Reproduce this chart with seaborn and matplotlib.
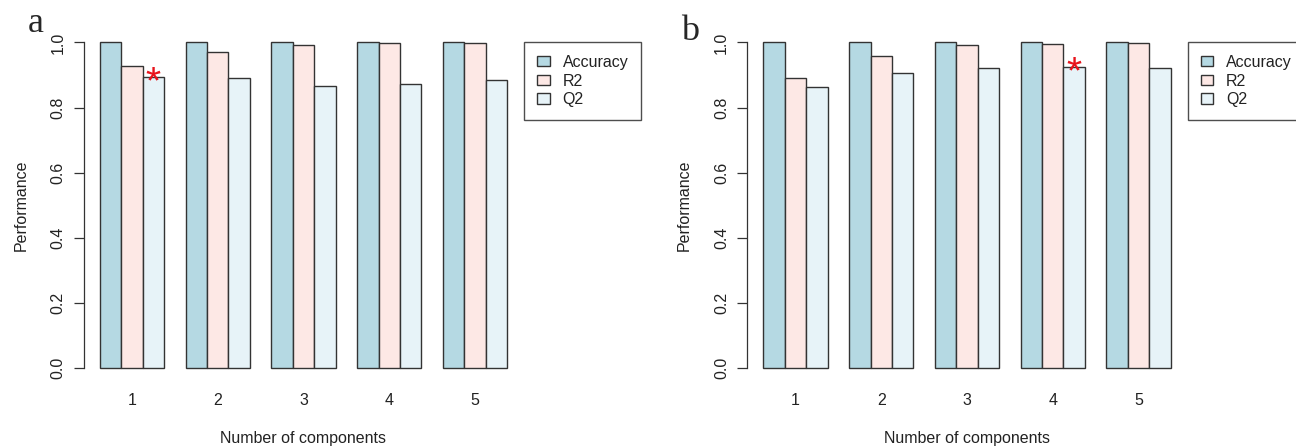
import matplotlib
matplotlib.use("Agg")
import matplotlib.pyplot as plt
from matplotlib.patches import Patch
import seaborn as sns
import pandas as pd

# ------------------------------------------------------------------
# Data
# ------------------------------------------------------------------
components = ["1", "2", "3", "4", "5"]
metrics = ["Accuracy", "R2", "Q2"]

a_accuracy = [1.0, 1.0, 1.0, 1.0, 1.0]
a_r2 = [0.928, 0.971, 0.991, 0.997, 0.999]
a_q2 = [0.894, 0.890, 0.866, 0.874, 0.886]

b_accuracy = [1.0, 1.0, 1.0, 1.0, 1.0]
b_r2 = [0.890, 0.959, 0.991, 0.996, 0.999]
b_q2 = [0.862, 0.907, 0.921, 0.925, 0.923]

# component index that gets the red asterisk on its Q2 bar
a_star = 0
b_star = 3

yticks = [0.0, 0.2, 0.4, 0.6, 0.8, 1.0]
colors = ["#B5D9E3", "#FDE8E5", "#E7F3F8"]

FS = 11.5

sns.set_theme(style="ticks")
plt.rcParams["font.family"] = ["Liberation Sans", "DejaVu Sans"]


def long_df(acc, r2, q2):
    rows = []
    for name, vals in zip(metrics, [acc, r2, q2]):
        for comp, v in zip(components, vals):
            rows.append({"component": comp, "metric": name, "value": v})
    return pd.DataFrame(rows)


def draw_panel(ax, df, star_idx):
    sns.barplot(data=df, x="component", y="value", hue="metric",
                order=components, hue_order=metrics, palette=colors,
                saturation=1, width=0.75, errorbar=None, legend=False,
                edgecolor="#333333", linewidth=1.0, ax=ax)
    ax.set_xlim(-0.565, 4.565)
    ax.set_ylim(-0.04, 1.04)

    for s in ["top", "right", "bottom"]:
        ax.spines[s].set_visible(False)
    ax.spines["left"].set_bounds(0, 1)
    ax.spines["left"].set_color("#333333")
    ax.spines["left"].set_linewidth(0.9)

    ax.set_yticks(yticks)
    ax.set_yticklabels([f"{t:.1f}" for t in yticks], rotation=90, va="center")
    ax.tick_params(axis="y", length=7, width=0.9, color="#333333",
                   pad=6, labelsize=FS, labelcolor="#222222")
    ax.tick_params(axis="x", length=0, pad=8.5, labelsize=FS,
                   labelcolor="#222222")

    ax.set_xlabel("Number of components", fontsize=FS, color="#222222")
    ax.set_ylabel("Performance", fontsize=FS, color="#222222")
    ax.xaxis.set_label_coords(0.5, -0.14)
    ax.yaxis.set_label_coords(-0.125, 0.5)

    # red asterisk on the chosen Q2 bar
    bar = ax.containers[2][star_idx]
    ax.annotate("*", xy=(bar.get_x() + bar.get_width() / 2, bar.get_height()),
                xytext=(0, -12), textcoords="offset points",
                ha="center", va="baseline", color="#E8141C", fontsize=28)

    handles = [Patch(facecolor=c, edgecolor="#333333", linewidth=1.0)
               for c in colors]
    leg = ax.legend(handles, metrics, loc="upper left",
                    bbox_to_anchor=(0.942 + 0.06, 0.964), fontsize=FS,
                    frameon=True, fancybox=False, borderpad=0.8,
                    handlelength=0.8, handleheight=0.62, handletextpad=0.8,
                    labelspacing=0.23, borderaxespad=0)
    leg.get_frame().set_edgecolor("#222222")
    leg.get_frame().set_linewidth(1.0)
    for t in leg.get_texts():
        t.set_color("#222222")


fig = plt.figure(figsize=(12.96, 4.46), dpi=100)
ax_a = fig.add_axes([83.5 / 1296, 0.145, 440 / 1296, 0.789])
ax_b = fig.add_axes([747 / 1296, 0.145, 440 / 1296, 0.789])

draw_panel(ax_a, long_df(a_accuracy, a_r2, a_q2), a_star)
draw_panel(ax_b, long_df(b_accuracy, b_r2, b_q2), b_star)

fig.text(28 / 1296, 1 - 32 / 446, "a", fontsize=26, va="baseline",
         ha="left", family=["Liberation Serif", "DejaVu Serif"])
fig.text(681 / 1296, 1 - 40 / 446, "b", fontsize=26, va="baseline",
         ha="left", family=["Liberation Serif", "DejaVu Serif"])

fig.savefig("out.png", dpi=100)
plt.close(fig)
